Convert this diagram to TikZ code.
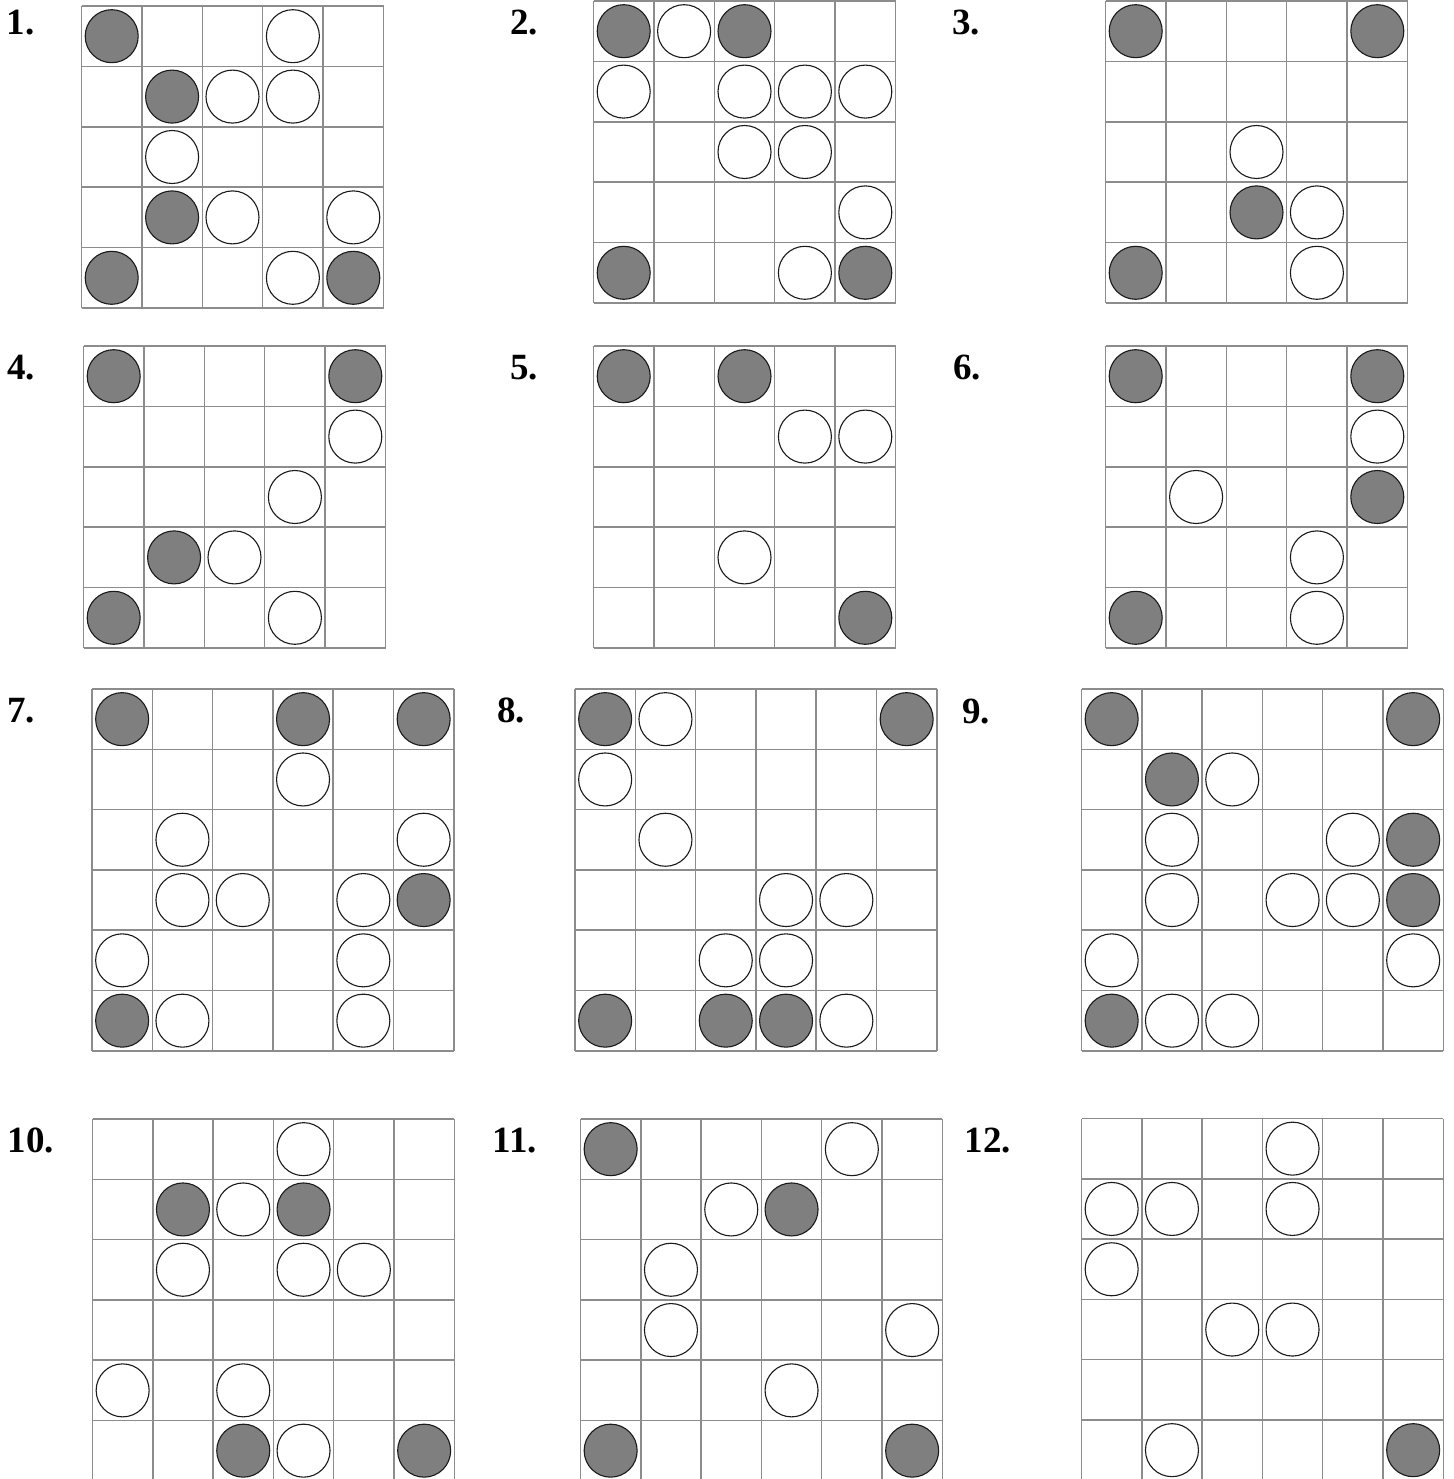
\documentclass[tikz,border=0pt]{standalone}
\usepackage{fontspec}
\setmainfont{Liberation Serif}
\definecolor{Ink}      {HTML}{1A1A1A}
\definecolor{GridGrey} {HTML}{8C8C8C}
\definecolor{StoneGrey}{HTML}{7F7F7F}

\tikzset{
  gridline/.style={line width=1.5pt, GridGrey, line cap=square},
  darkstone/.style={line width=1.1pt, draw=Ink, fill=StoneGrey},
  lightstone/.style={line width=1.1pt, draw=Ink, fill=white},
  numlab/.style={anchor=base west, inner sep=0pt, text=black,
                 font=\fontsize{37}{40}\selectfont\bfseries},
}

% board: x0, y0, size, cell, dark stones (row/col), light stones (row/col)
\newcommand{\board}[6]{%
  \foreach \k in {0,...,#3}{
    \draw[gridline] ({#1+\k*#4},#2) -- ({#1+\k*#4},{#2+#3*#4});
    \draw[gridline] (#1,{#2+\k*#4}) -- ({#1+#3*#4},{#2+\k*#4});
  }
  \foreach \r/\c in {#5}{
    \draw[darkstone] ({#1+(\c+0.5)*#4},{#2+(\r+0.5)*#4}) circle (26.5pt);
  }
  \foreach \r/\c in {#6}{
    \draw[lightstone] ({#1+(\c+0.5)*#4},{#2+(\r+0.5)*#4}) circle (26.5pt);
  }
}

\begin{document}
\begin{tikzpicture}[x=1pt, y=-1pt]
  \useasboundingbox[fill=white] (0,0) rectangle (1453,1479);

  % ===== ROW 1 (5x5) =====
  \node[numlab] (lab1) at (6.5,35) {1.};
  \board{81.5}{6}{5}{60.4}{0/0,1/1,3/1,4/0,4/4}{0/3,1/2,1/3,2/1,3/2,3/4,4/3}
  \node[numlab] (lab2) at (510,35) {2.};
  \board{593.5}{1}{5}{60.4}{0/0,0/2,4/0,4/4}{0/1,1/0,1/2,1/3,1/4,2/2,2/3,3/4,4/3}
  \node[numlab] (lab3) at (952,35) {3.};
  \board{1105.5}{1}{5}{60.4}{0/0,0/4,3/2,4/0}{2/2,3/3,4/3}

  % ===== ROW 2 (5x5) =====
  \node[numlab] (lab4) at (7,379) {4.};
  \board{83.5}{346}{5}{60.4}{0/0,0/4,3/1,4/0}{1/4,2/3,3/2,4/3}
  \node[numlab] (lab5) at (510,379) {5.};
  \board{593.5}{346}{5}{60.4}{0/0,0/2,4/4}{1/3,1/4,3/2}
  \node[numlab] (lab6) at (953,379) {6.};
  \board{1105.5}{346}{5}{60.4}{0/0,0/4,2/4,4/0}{1/4,2/1,3/3,4/3}

  % ===== ROW 3 (6x6) =====
  \node[numlab] (lab7) at (7,722) {7.};
  \board{92}{689}{6}{60.3}{0/0,0/3,0/5,3/5,5/0}{1/3,2/1,2/5,3/1,3/2,3/4,4/0,4/4,5/1,5/4}
  \node[numlab] (lab8) at (497,722) {8.};
  \board{575}{689}{6}{60.3}{0/0,0/5,5/0,5/2,5/3}{0/1,1/0,2/1,3/3,3/4,4/2,4/3,5/4}
  \node[numlab] (lab9) at (962,723) {9.};
  \board{1081.5}{689}{6}{60.3}{0/0,0/5,1/1,2/5,3/5,5/0}{1/2,2/1,2/4,3/1,3/3,3/4,4/0,4/5,5/1,5/2}

  % ===== ROW 4 (6x6) =====
  \node[numlab] (lab10) at (7.5,1152) {10.};
  \board{92.5}{1119}{6}{60.3}{1/1,1/3,5/2,5/5}{0/3,1/2,2/1,2/3,2/4,4/0,4/2,5/3}
  \node[numlab] (lab11) at (492.5,1152) {11.};
  \board{580.5}{1119}{6}{60.3}{0/0,1/3,5/0,5/5}{0/4,1/2,2/1,3/1,3/5,4/3}
  \node[numlab] (lab12) at (964.5,1152) {12.};
  \board{1081.5}{1118.5}{6}{60.3}{5/5}{0/3,1/0,1/1,1/3,2/0,3/2,3/3,5/1}

\end{tikzpicture}
\end{document}
